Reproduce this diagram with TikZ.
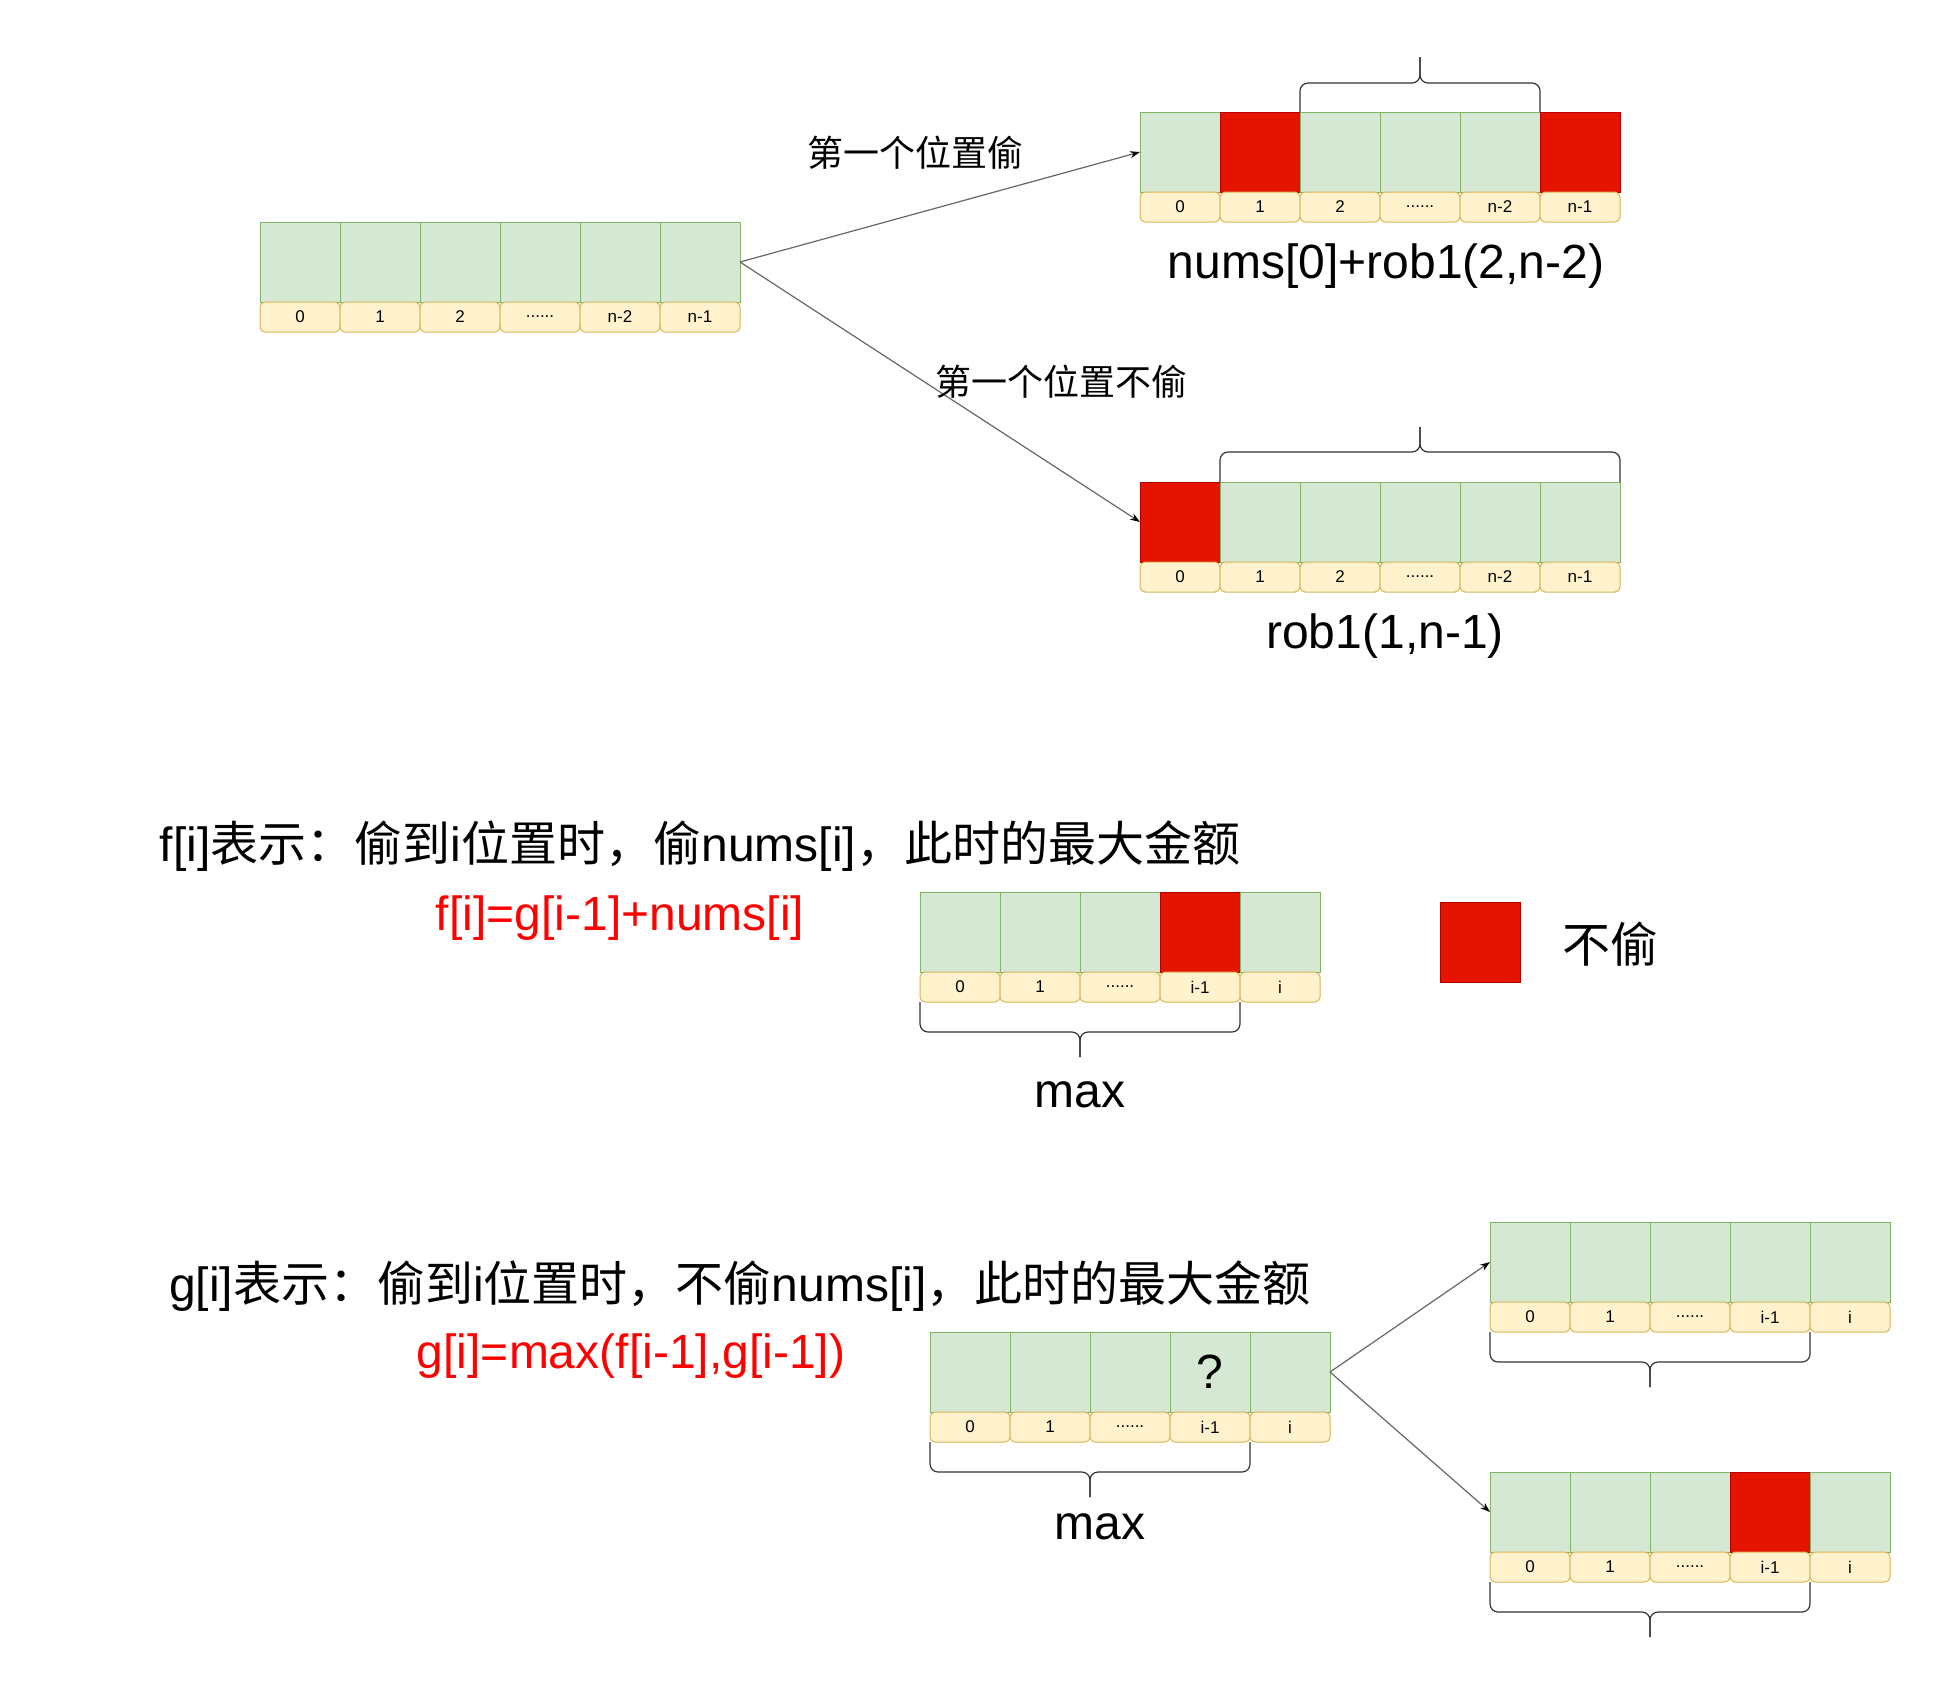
\documentclass[tikz,border=0pt]{standalone}
\usepackage{fontspec}
\setmainfont{Liberation Sans}
\newfontfamily\cjk{Noto Sans CJK SC}
\usetikzlibrary{arrows.meta, calc}

\definecolor{cellfill}{HTML}{D5E8D4}
\definecolor{cellline}{HTML}{82B366}
\definecolor{redfill}{HTML}{E51400}
\definecolor{redline}{HTML}{B20000}
\definecolor{idxfill}{HTML}{FFF2CC}
\definecolor{idxline}{HTML}{D6B656}
\newcommand{\dotsix}{......}

\begin{document}
\begin{tikzpicture}[x=0.5pt, y=0.5pt,
      cell/.style={rectangle, draw=cellline, fill=cellfill, line width=0.5pt, minimum width=40pt, minimum height=40pt, inner sep=0pt, outer sep=0pt, anchor=north west},
      redcell/.style={cell, draw=redline, fill=redfill},
      idx/.style={rectangle, rounded corners=2.5pt, draw=idxline, fill=idxfill, line width=0.5pt, minimum width=40pt, minimum height=15pt, inner sep=0pt, outer sep=0pt, anchor=north west, font=\fontsize{8.5}{10}\selectfont},
      link/.style={draw=black!60, line width=0.6pt, -{Stealth[length=5pt, width=3.5pt, color=black]}},
      bracket/.style={draw=black!80, line width=0.6pt, rounded corners=4pt},
      big/.style={font=\fontsize{24}{28}\selectfont},
      mid/.style={font=\fontsize{18}{22}\selectfont}]
      \useasboundingbox (0,0) rectangle (1941,-1694);

      % Whole array
      \foreach \lab/\sty [count=\k from 0] in {0/cell, 1/cell, 2/cell, \dotsix/cell, n-2/cell, n-1/cell} {
        \node[\sty] (a\k) at (260+80*\k, -222) {};
        \node[idx] (ai\k) at (260+80*\k, -302) {\lab};
      }

      % First house robbed
      \foreach \lab/\sty [count=\k from 0] in {0/cell, 1/redcell, 2/cell, \dotsix/cell, n-2/cell, n-1/redcell} {
        \node[\sty] (b\k) at (1140+80*\k, -112) {};
        \node[idx] (bi\k) at (1140+80*\k, -192) {\lab};
      }

      % First house skipped
      \foreach \lab/\sty [count=\k from 0] in {0/redcell, 1/cell, 2/cell, \dotsix/cell, n-2/cell, n-1/cell} {
        \node[\sty] (c\k) at (1140+80*\k, -482) {};
        \node[idx] (ci\k) at (1140+80*\k, -562) {\lab};
      }

      % f[i]
      \foreach \lab/\sty [count=\k from 0] in {0/cell, 1/cell, \dotsix/cell, i-1/redcell, i/cell} {
        \node[\sty] (d\k) at (920+80*\k, -892) {};
        \node[idx] (di\k) at (920+80*\k, -972) {\lab};
      }

      % g[i] and its two cases
      \foreach \lab/\sty [count=\k from 0] in {0/cell, 1/cell, \dotsix/cell, i-1/cell, i/cell} {
        \node[\sty] (e\k) at (930+80*\k, -1332) {};
        \node[idx] (ei\k) at (930+80*\k, -1412) {\lab};
      }
      \foreach \lab/\sty [count=\k from 0] in {0/cell, 1/cell, \dotsix/cell, i-1/cell, i/cell} {
        \node[\sty] (f\k) at (1490+80*\k, -1222) {};
        \node[idx] (fi\k) at (1490+80*\k, -1302) {\lab};
      }
      \foreach \lab/\sty [count=\k from 0] in {0/cell, 1/cell, \dotsix/cell, i-1/redcell, i/cell} {
        \node[\sty] (g\k) at (1490+80*\k, -1472) {};
        \node[idx] (gi\k) at (1490+80*\k, -1552) {\lab};
      }
      \node[big] (qmark) at (e3.center) {?};

      % Arrows
      \draw[link] (a5.east) -- (b0.west);
      \draw[link] (a5.east) -- (c0.west);
      \draw[link] (e4.east) -- (f0.west);
      \draw[link] (e4.east) -- (g0.west);

      % Braces
      \coordinate (bm) at ($(b2.north west)!.5!(b4.north east)+(0,29)$);
      \draw[bracket] (b2.north west) |- (bm) -- ++(0,26);
      \draw[bracket] (b4.north east) |- (bm) -- ++(0,26);
      \coordinate (cm) at ($(c1.north west)!.5!(c5.north east)+(0,30)$);
      \draw[bracket] (c1.north west) |- (cm) -- ++(0,25);
      \draw[bracket] (c5.north east) |- (cm) -- ++(0,25);
      \coordinate (dm) at ($(di0.south west)!.5!(di3.south east)+(0,-30)$);
      \draw[bracket] (di0.south west) |- (dm) -- ++(0,-25);
      \draw[bracket] (di3.south east) |- (dm) -- ++(0,-25);
      \coordinate (em) at ($(ei0.south west)!.5!(ei3.south east)+(0,-30)$);
      \draw[bracket] (ei0.south west) |- (em) -- ++(0,-25);
      \draw[bracket] (ei3.south east) |- (em) -- ++(0,-25);
      \coordinate (fm) at ($(fi0.south west)!.5!(fi3.south east)+(0,-30)$);
      \draw[bracket] (fi0.south west) |- (fm) -- ++(0,-25);
      \draw[bracket] (fi3.south east) |- (fm) -- ++(0,-25);
      \coordinate (gm) at ($(gi0.south west)!.5!(gi3.south east)+(0,-30)$);
      \draw[bracket] (gi0.south west) |- (gm) -- ++(0,-25);
      \draw[bracket] (gi3.south east) |- (gm) -- ++(0,-25);

      % Labels
      \node[mid] (lsteal) at (915,-153) {\cjk 第一个位置偷};
      \node[mid] (lskip) at (1061,-382) {\cjk 第一个位置不偷};
      \node[big] (stealsum) at (1386,-266) {nums[0]+rob1(2,n-2)};
      \node[big] (skipsum) at (1385,-636) {rob1(1,n-1)};

      \node[big] (fdef) at (700,-846) {f[i]{\cjk 表示：偷到}i{\cjk 位置时，偷}nums[i]{\cjk ，此时的最大金额}};
      \node[big, text=red] (frule) at (620,-918) {f[i]=g[i-1]+nums[i]};
      \node[big] (fmax) at (1080,-1095) {max};

      \node[redcell] (legend) at (1440,-902) {};
      \node[big] (legendtext) at (1610,-944) {\cjk 不偷};

      \node[big] (gdef) at (740,-1286) {g[i]{\cjk 表示：偷到}i{\cjk 位置时，不偷}nums[i]{\cjk ，此时的最大金额}};
      \node[big, text=red] (grule) at (631,-1356) {g[i]=max(f[i-1],g[i-1])};
      \node[big] (gmax) at (1100,-1527) {max};
    \end{tikzpicture}
\end{document}
